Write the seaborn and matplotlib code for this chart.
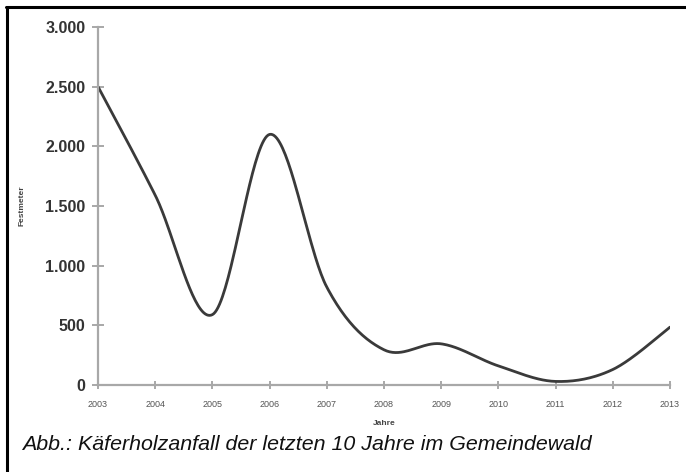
import numpy as np
import pandas as pd
import matplotlib
matplotlib.use('Agg')
import matplotlib.pyplot as plt
import seaborn as sns
from matplotlib.lines import Line2D

years = [2003, 2004, 2005, 2006, 2007, 2008, 2009, 2010, 2011, 2012, 2013]
festmeter = [2500, 1590, 590, 2100, 820, 295, 345, 160, 30, 130, 485]
y_ticks = [0, 500, 1000, 1500, 2000, 2500, 3000]
y_tick_labels = ['0', '500', '1.000', '1.500', '2.000', '2.500', '3.000']
caption = 'Abb.: Käferholzanfall der letzten 10 Jahre im Gemeindewald'


def smooth(xs, ys, n=40):
    # Catmull-Rom, like the "smoothed line" option of spreadsheet charts
    xs = np.asarray(xs, float)
    ys = np.asarray(ys, float)
    px = np.concatenate([[xs[0]], xs, [xs[-1]]])
    py = np.concatenate([[ys[0]], ys, [ys[-1]]])
    out_x, out_y = [], []
    t = np.linspace(0, 1, n, endpoint=False)
    for i in range(1, len(px) - 2):
        for p, out in ((px, out_x), (py, out_y)):
            p0, p1, p2, p3 = p[i - 1], p[i], p[i + 1], p[i + 2]
            out.extend(0.5 * (2 * p1 + (-p0 + p2) * t
                              + (2 * p0 - 5 * p1 + 4 * p2 - p3) * t ** 2
                              + (-p0 + 3 * p1 - 3 * p2 + p3) * t ** 3))
    out_x.append(xs[-1])
    out_y.append(ys[-1])
    return pd.DataFrame({'Jahr': out_x, 'Festmeter': out_y})


sns.set_style('white')
plt.rcParams['font.family'] = ['Liberation Sans', 'DejaVu Sans']

fig = plt.figure(figsize=(6.86, 4.72), dpi=100)
ax = fig.add_axes([0.1429, 0.1843, 0.8338, 0.7585])

curve = smooth(years, festmeter)
sns.lineplot(data=curve, x='Jahr', y='Festmeter', sort=False, color='#3a3a3a',
             linewidth=2.0, ax=ax)

ax.set_xlim(years[0], years[-1])
ax.set_ylim(0, 3000)
ax.set_xticks(years)
ax.set_xticklabels([str(y) for y in years], fontsize=6.5, color='#555555')
ax.set_yticks(y_ticks)
ax.set_yticklabels(y_tick_labels, fontsize=11.5, color='#333333', fontweight='semibold')
ax.tick_params(axis='y', left=True, direction='inout', length=8, width=1.2,
               color='#999999', pad=5)
ax.tick_params(axis='x', bottom=True, direction='inout', length=6, width=1.2,
               color='#999999', pad=8)
for s in ['top', 'right']:
    ax.spines[s].set_visible(False)
for s in ['left', 'bottom']:
    ax.spines[s].set_color('#a8a8a8')
    ax.spines[s].set_linewidth(1.6)

ax.set_xlabel('Jahre', fontsize=6, fontweight='bold', color='#444444', labelpad=8)
ax.set_ylabel('Festmeter', fontsize=6, fontweight='bold', color='#444444', labelpad=14)

fig.text(22 / 686, 1 - 444 / 472, caption, fontsize=15.4, style='italic',
         color='#111111', va='center', ha='left')

# frame (only left and top edge are visible in the cut-out)
fig.add_artist(Line2D([6 / 686, 1.0], [1 - 7 / 472, 1 - 7 / 472], color='black',
                      linewidth=2.2, transform=fig.transFigure))
fig.add_artist(Line2D([7 / 686, 7 / 686], [0, 1 - 7 / 472], color='black',
                      linewidth=2.2, transform=fig.transFigure))

fig.savefig('out.png', dpi=100)
